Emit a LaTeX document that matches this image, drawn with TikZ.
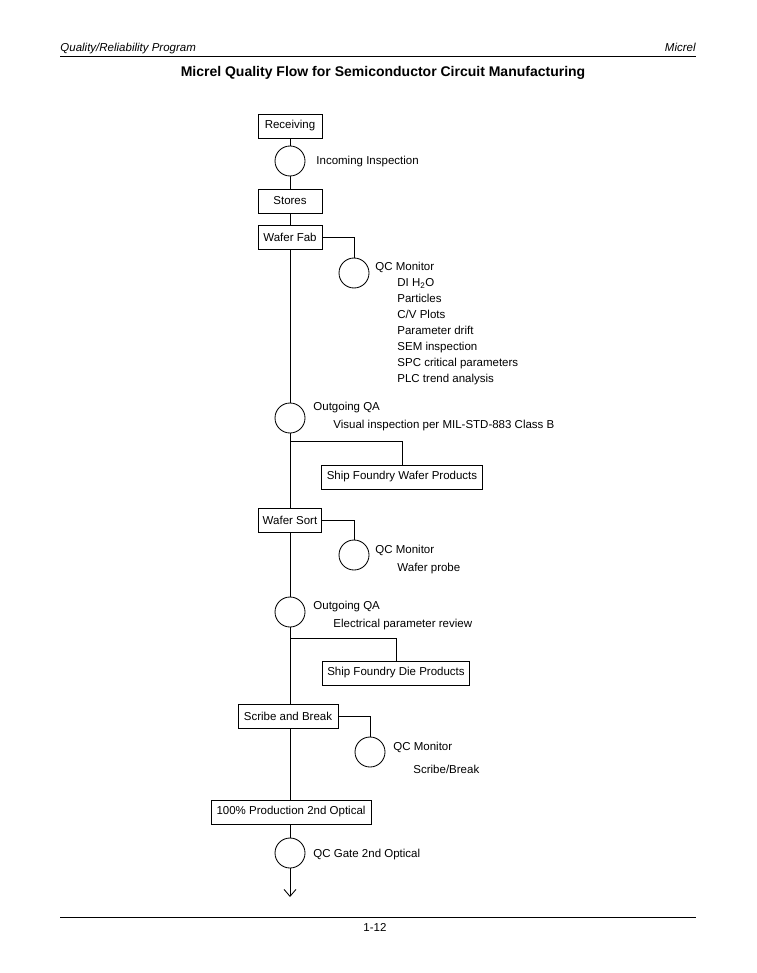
\documentclass[tikz,border=0pt]{standalone}
\usepackage{fontspec}
\setmainfont{Liberation Sans}
\usetikzlibrary{arrows.meta}
\begin{document}
\begin{tikzpicture}[x=1pt,y=-1pt,
  line width=0.85pt,
  stepbox/.style={draw, minimum height=24pt, inner sep=0pt, font=\fontsize{11.5}{13}\selectfont},
  chk/.style={draw, circle, minimum size=30pt, inner sep=0pt},
  lbl/.style={anchor=base west, inner sep=0pt, font=\fontsize{11.5}{13}\selectfont},
  hdr/.style={inner sep=0pt, font=\fontsize{11.5}{13}\selectfont\itshape}]
\useasboundingbox (0,0) rectangle (756,973);
% header / footer
\node[hdr, anchor=base west] (hl) at (60,52) {Quality/Reliability Program};
\node[hdr, anchor=base east] (hr) at (696,52) {Micrel};
\coordinate (r1a) at (60,56.5); \coordinate (r1b) at (696,56.5);
\draw[line width=0.9pt] (r1a) -- (r1b);
\node[inner sep=0pt, anchor=base, font=\fontsize{14}{16}\selectfont\bfseries] (title) at (383,77) {Micrel Quality Flow for Semiconductor Circuit Manufacturing};
\coordinate (r2a) at (60,917); \coordinate (r2b) at (696,917);
\draw[line width=0.9pt] (r2a) -- (r2b);
\node[inner sep=0pt, anchor=base, font=\fontsize{11.5}{13}\selectfont] (pg) at (375,931) {1-12};

% main flow
\node[stepbox, minimum width=64pt] (recv) at (290,126) {Receiving};
\node[chk] (inc) at (290,161) {};
\node[lbl] (incl) at (316,165) {Incoming Inspection};
\node[stepbox, minimum width=64pt] (stores) at (290,201) {Stores};
\node[stepbox, minimum width=64pt] (fab) at (290,237) {Wafer Fab};
\node[chk] (qc1) at (354,273) {};
\node[lbl] (qc1l) at (375,271) {QC Monitor};
\node[lbl] (qc1a) at (397,287) {DI H\textsubscript{2}O};
\node[lbl] (qc1b) at (397,302) {Particles};
\node[lbl] (qc1c) at (397,318) {C/V Plots};
\node[lbl] (qc1d) at (397,334) {Parameter drift};
\node[lbl] (qc1e) at (397,350) {SEM inspection};
\node[lbl] (qc1f) at (397,366) {SPC critical parameters};
\node[lbl] (qc1g) at (397,382) {PLC trend analysis};

\node[chk] (oqa1) at (290,418) {};
\node[lbl] (oqa1l) at (313,410) {Outgoing QA};
\node[lbl] (oqa1a) at (333,428) {Visual inspection per MIL-STD-883 Class B};
\coordinate (b1) at (290,441);
\coordinate (b1r) at (402,441);
\node[stepbox, minimum width=161pt] (shipw) at (402,477) {Ship Foundry Wafer Products};

\node[stepbox, minimum width=63pt] (sort) at (290,520) {Wafer Sort};
\node[chk] (qc2) at (354,555) {};
\node[lbl] (qc2l) at (375,553) {QC Monitor};
\node[lbl] (qc2a) at (397,571) {Wafer probe};

\node[chk] (oqa2) at (290,612) {};
\node[lbl] (oqa2l) at (313,609) {Outgoing QA};
\node[lbl] (oqa2a) at (333,627) {Electrical parameter review};
\coordinate (b2) at (290,638);
\coordinate (b2r) at (396,638);
\node[stepbox, minimum width=147pt] (shipd) at (396,673) {Ship Foundry Die Products};

\node[stepbox, minimum width=100pt] (scribe) at (288,716) {Scribe and Break};
\node[chk] (qc3) at (370,752) {};
\node[lbl] (qc3l) at (393,750) {QC Monitor};
\node[lbl] (qc3a) at (413,773) {Scribe/Break};

\node[stepbox, minimum width=160pt] (prod) at (291,812) {100\% Production 2nd Optical};
\node[chk] (gate) at (290,853) {};
\node[lbl] (gatel) at (313,857) {QC Gate 2nd Optical};
\coordinate (end) at (290,897);

% connectors
\draw (recv) -- (inc);
\draw (inc) -- (stores);
\draw (stores) -- (fab);
\draw (fab.east) -| (qc1.north);
\draw (fab.south) -- (oqa1.north);
\draw (oqa1.south) -- (b1);
\draw (b1) -- (b1r) -- (shipw.north);
\draw (b1) -- (sort.north);
\draw (sort.east) -| (qc2.north);
\draw (sort.south) -- (oqa2.north);
\draw (oqa2.south) -- (b2);
\draw (b2) -- (b2r) -- (shipd.north);
\draw (b2) -- (b2 |- scribe.north);
\draw (scribe.east) -| (qc3.north);
\draw (b2 |- scribe.south) -- (b2 |- prod.north);
\draw (prod.south -| gate) -- (gate.north);
\draw[-{Straight Barb[length=7pt,width=12pt]}] (gate.south) -- (end);
\end{tikzpicture}
\end{document}
